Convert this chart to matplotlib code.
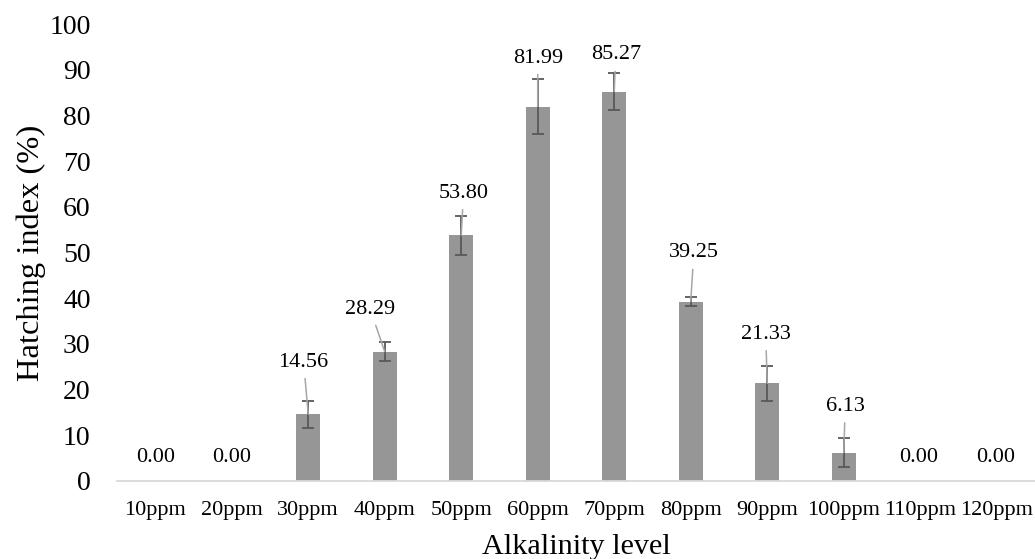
import numpy as np
import matplotlib
matplotlib.use("Agg")
import matplotlib.pyplot as plt

# data
levels = ["10ppm", "20ppm", "30ppm", "40ppm", "50ppm", "60ppm",
          "70ppm", "80ppm", "90ppm", "100ppm", "110ppm", "120ppm"]
hatching = [0.00, 0.00, 14.56, 28.29, 53.80, 81.99,
            85.27, 39.25, 21.33, 6.13, 0.00, 0.00]
err = [0, 0, 3.0, 2.0, 4.3, 6.0, 4.0, 1.0, 3.8, 3.2, 0, 0]

# label placement (x, y in data units), Excel moved some of them by hand
label_pos = [(0, 5.0), (1, 5.0), (1.94, 26.0), (2.81, 37.6), (4.03, 63.0),
             (5.0, 92.6), (6.02, 93.3), (7.04, 49.9), (7.98, 32.1),
             (9.02, 16.3), (9.98, 5.0), (10.98, 5.0)]

plt.rcParams['font.family'] = ['Liberation Serif', 'DejaVu Serif']

fig = plt.figure(figsize=(10.35, 5.59), dpi=100)
ax = fig.add_axes([0.113, 0.140, 0.887, 0.8165])

x = np.arange(len(levels))
h = np.array(hatching)
e = np.array(err)
ax.bar(x, h, width=0.31, color='#969696', zorder=2)
ax.errorbar(x[e > 0], h[e > 0], yerr=e[e > 0], fmt='none',
            ecolor='#595959', elinewidth=1.3, capsize=4.3, capthick=1.3, zorder=3)

for i, v in enumerate(hatching):
    lx, ly = label_pos[i]
    if v > 0:
        ax.annotate(f"{v:.2f}", xy=(i, v), xytext=(lx, ly),
                    ha='center', va='center', fontsize=16,
                    arrowprops=dict(arrowstyle='-', color='#a6a6a6', lw=1.1,
                                    shrinkA=3, shrinkB=0),
                    zorder=4)
    else:
        ax.text(lx, ly, f"{v:.2f}", ha='center', va='center', fontsize=16)

ax.set_xlim(-0.5, len(levels) - 0.5)
ax.set_ylim(0, 100)
ax.set_yticks(np.arange(0, 101, 10))
ax.set_xticks(x)
ax.set_xticklabels(levels)

for s in ['top', 'right', 'left']:
    ax.spines[s].set_visible(False)
ax.spines['bottom'].set_color('#d9d9d9')
ax.spines['bottom'].set_linewidth(1.3)

ax.tick_params(axis='y', length=0, pad=19, labelsize=20)
ax.tick_params(axis='x', length=0, pad=14.5, labelsize=16)

ax.set_xlabel("Alkalinity level", fontsize=21.7, labelpad=10.5)
ax.set_ylabel("Hatching index (%)", fontsize=23.4, labelpad=2)

fig.savefig("out.png", dpi=100)
